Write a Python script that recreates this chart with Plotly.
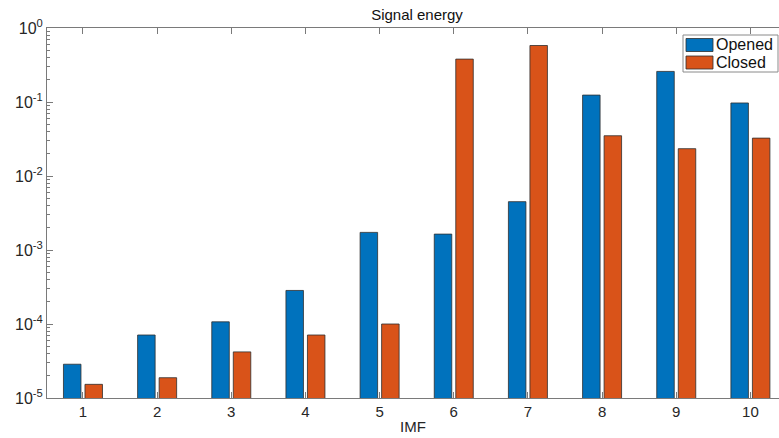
import plotly.graph_objects as go

imf = [1, 2, 3, 4, 5, 6, 7, 8, 9, 10]
opened = [2.86e-5, 7.1e-5, 1.07e-4, 2.84e-4, 1.73e-3, 1.64e-3, 4.5e-3, 0.124, 0.259, 0.097]
closed = [1.53e-5, 1.88e-5, 4.2e-5, 7.1e-5, 1.0e-4, 0.38, 0.58, 0.035, 0.0234, 0.0325]
series_names = ["Opened", "Closed"]
colors = ["#0072BD", "#D95319"]
decades = [1e-5, 1e-4, 1e-3, 1e-2, 1e-1, 1e0]
decade_labels = ["10<sup>-5</sup>", "10<sup>-4</sup>", "10<sup>-3</sup>",
                 "10<sup>-2</sup>", "10<sup>-1</sup>", "10<sup>0</sup>"]

W, H = 779, 438
ML, MR, MT, MB = 47, 0, 28, 40
FONT = "Liberation Sans, Arial, Helvetica, sans-serif"
AX = "#7a7a7a"

fig = go.Figure()
bw = 0.236
for name, vals, col, off in [(series_names[0], opened, colors[0], -0.145 - bw / 2),
                             (series_names[1], closed, colors[1], 0.145 - bw / 2)]:
    fig.add_trace(go.Bar(
        x=imf, y=vals, name=name, width=bw, offset=off,
        marker=dict(color=col, line=dict(color="#2e2e2e", width=0.8)),
        showlegend=False,
    ))

minor_vals = [m * d for d in decades[:-1] for m in range(2, 10)]

fig.update_layout(
    width=W, height=H,
    margin=dict(l=ML, r=MR, t=MT, b=MB),
    paper_bgcolor="white", plot_bgcolor="white",
    barmode="overlay",
    font=dict(family=FONT, size=15, color="#262626"),
    title=dict(text="Signal energy", x=417 / W, xanchor="center",
               y=1 - 15 / H, yanchor="middle", yref="container",
               font=dict(size=15, color="#111111")),
    xaxis=dict(
        range=[0.515, 0.515 + (W - ML - MR) / 74.16],
        tickvals=imf, ticktext=[str(v) for v in imf],
        ticks="inside", ticklen=6, tickcolor=AX, tickwidth=1,
        showline=True, linecolor=AX, linewidth=1, mirror="ticks",
        showgrid=False, zeroline=False,
        title=dict(text="IMF", standoff=2, font=dict(size=15)),
        tickfont=dict(size=15, color="#262626"),
    ),
    yaxis=dict(
        type="log", range=[-5, 0],
        tickvals=decades, ticktext=decade_labels,
        ticks="inside", ticklen=6, tickcolor=AX, tickwidth=1,
        minor=dict(tickvals=minor_vals, ticks="inside", ticklen=3, tickcolor=AX, showgrid=False),
        showline=True, linecolor=AX, linewidth=1, mirror=False,
        showgrid=False, zeroline=False,
        tickfont=dict(size=16, color="#262626"),
    ),
)

# legend drawn as box + swatches + text (MATLAB style)
pw = W - ML - MR
ph = H - MT - MB
def px(x):
    return (x - ML) / pw
def py(y):
    return (H - MB - y) / ph

fig.add_shape(type="rect", xref="paper", yref="paper",
              x0=px(683), x1=px(778), y0=py(72), y1=py(35),
              line=dict(color="#8a8a8a", width=1), fillcolor="white", layer="above")
for i, (name, col) in enumerate(zip(series_names, colors)):
    top = 38.5 + i * 17.5
    fig.add_shape(type="rect", xref="paper", yref="paper",
                  x0=px(686), x1=px(713), y0=py(top + 13), y1=py(top),
                  line=dict(color="#2e2e2e", width=0.8), fillcolor=col, layer="above")
    fig.add_annotation(xref="paper", yref="paper", x=px(714), y=py(top + 6.5),
                       text=name, showarrow=False, xanchor="left", yanchor="middle",
                       font=dict(size=16, color="#111111", family=FONT))

fig.write_html("out.html", config={"displayModeBar": False},
               post_script="document.body.style.margin='0px';document.body.style.overflow='hidden';")
